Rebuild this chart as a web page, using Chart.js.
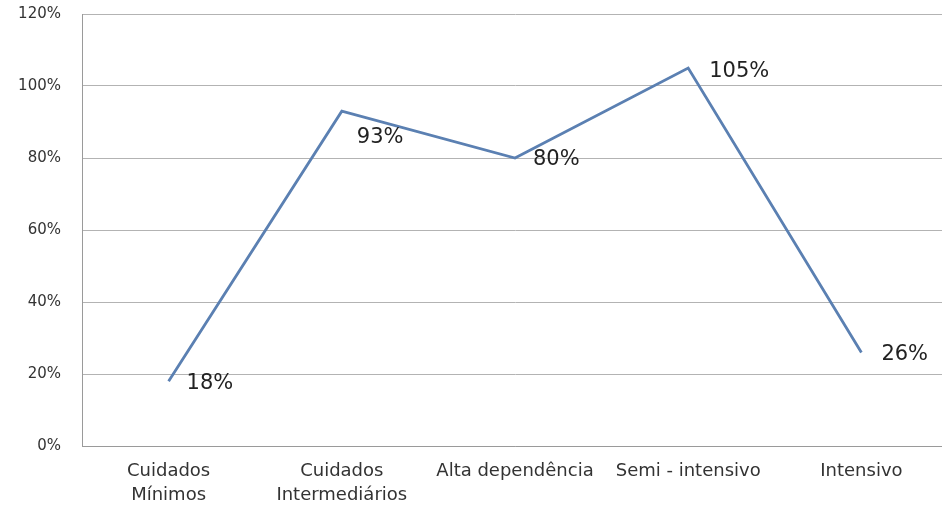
<!DOCTYPE html>
<html>
<head>
<meta charset="utf-8">
<script src="https://cdn.jsdelivr.net/npm/chart.js@4/dist/chart.umd.min.js"></script>
<style>
html,body{margin:0;padding:0;background:#fff;overflow:hidden;}
#wrap{width:950px;height:511px;position:relative;}
</style>
</head>
<body>
<div id="wrap"><canvas id="c"></canvas></div>
<script>
const categories = [["Cuidados","Mínimos"],["Cuidados","Intermediários"],"Alta dependência","Semi - intensivo","Intensivo"];
const values = [18, 93, 80, 105, 26];
const valueLabels = ["18%","93%","80%","105%","26%"];
const yTicks = [0,20,40,60,80,100,120];

const labelPlugin = {
  id: 'valueLabels',
  afterDatasetsDraw(chart, args, opts) {
    const ctx = chart.ctx;
    const meta = chart.getDatasetMeta(0);
    ctx.save();
    ctx.font = opts.font;
    ctx.fillStyle = opts.color;
    ctx.textAlign = 'left';
    ctx.textBaseline = 'middle';
    meta.data.forEach((pt, i) => {
      const off = (opts.offsets && opts.offsets[i]) || [15, 3];
      ctx.fillText(valueLabels[i], pt.x + off[0], pt.y + off[1]);
    });
    ctx.restore();
  }
};

new Chart(document.getElementById('c'), {
  type: 'line',
  data: {
    labels: categories,
    datasets: [{
      data: values,
      borderColor: '#5b80b2',
      borderWidth: 2.8,
      pointRadius: 0,
      tension: 0,
      fill: false
    }]
  },
  options: {
    responsive: true,
    maintainAspectRatio: false,
    animation: false,
    layout: { padding: { top: 14, right: 2, left: 0, bottom: 0 } },
    plugins: {
      legend: { display: false },
      tooltip: { enabled: false },
      valueLabels: {
        font: '21px "DejaVu Sans"',
        color: '#222',
        offsets: [[18, 2], [15, 26], [18, 2], [21, 4], [20, 2]]
      }
    },
    scales: {
      x: {
        offset: true,
        grid: { display: false, drawTicks: false },
        border: { display: true, color: '#9a9a9a', width: 1 },
        ticks: {
          maxRotation: 0, autoSkip: false, padding: 14,
          color: '#333',
          font: { family: 'DejaVu Sans', size: 18, lineHeight: 1.3 }
        },
        afterFit(s) { s.height = 65; s.paddingLeft = 0; s.paddingRight = 0; }
      },
      y: {
        min: 0, max: 120,
        afterBuildTicks(s) { s.ticks = yTicks.map(v => ({ value: v })); },
        grid: { color: '#b3b3b3', lineWidth: 1, drawTicks: false },
        border: { display: true, color: '#9a9a9a', width: 1 },
        ticks: {
          padding: 21,
          color: '#333',
          font: { family: 'DejaVu Sans', size: 15 },
          callback: v => v + '%'
        },
        afterFit(s) { s.width = 82; s.paddingTop = 0; s.paddingBottom = 0; }
      }
    }
  },
  plugins: [labelPlugin]
});
</script>
</body>
</html>
